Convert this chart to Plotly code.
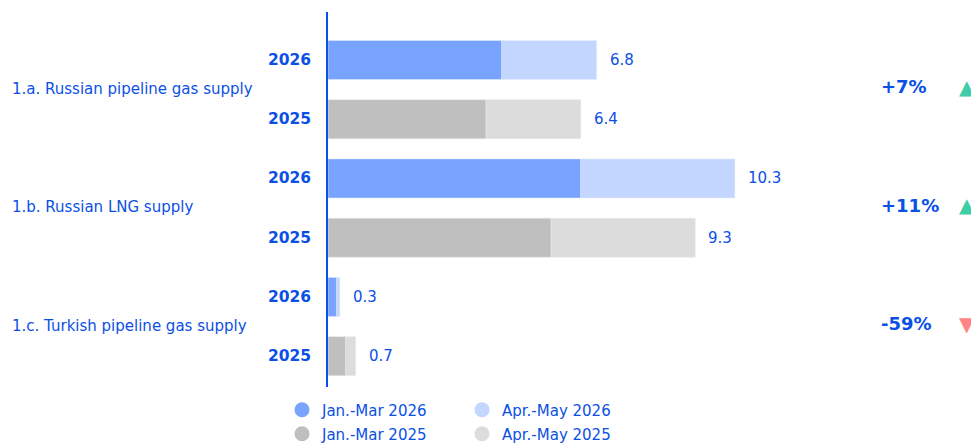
import plotly.graph_objects as go

groups = ["1.a. Russian pipeline gas supply", "1.b. Russian LNG supply", "1.c. Turkish pipeline gas supply"]
years = ["2026", "2025"]
jan_mar_2026 = [4.4, 6.4, 0.22]
apr_may_2026 = [2.4, 3.9, 0.08]
jan_mar_2025 = [4.0, 5.65, 0.45]
apr_may_2025 = [2.4, 3.65, 0.25]
change_pct = [7, 11, -59]

BLUE_TXT = "#0B50E6"
C_JM26, C_AM26, C_JM25, C_AM25 = "#78A4FF", "#C3D6FF", "#BFBFBF", "#DCDCDC"
FONT = "DejaVu Sans"

# row positions: group i -> 2026 at 2i, 2025 at 2i+1
y26 = [2 * i for i in range(len(groups))]
y25 = [2 * i + 1 for i in range(len(groups))]

fig = go.Figure()
bw = 0.66
fig.add_trace(go.Bar(y=y26, x=jan_mar_2026, orientation="h", marker_color=C_JM26, width=bw, showlegend=False))
fig.add_trace(go.Bar(y=y26, x=apr_may_2026, base=jan_mar_2026, orientation="h", marker_color=C_AM26, width=bw, showlegend=False))
fig.add_trace(go.Bar(y=y25, x=jan_mar_2025, orientation="h", marker_color=C_JM25, width=bw, showlegend=False))
fig.add_trace(go.Bar(y=y25, x=apr_may_2025, base=jan_mar_2025, orientation="h", marker_color=C_AM25, width=bw, showlegend=False))

# legend entries (circles)
for name, col, lg in [("Jan.-Mar 2026", C_JM26, "legend"), ("Apr.-May 2026", C_AM26, "legend"),
                      ("Jan.-Mar 2025", C_JM25, "legend2"), ("Apr.-May 2025", C_AM25, "legend2")]:
    fig.add_trace(go.Scatter(x=[None], y=[None], mode="markers", name=name,
                             marker=dict(color=col, size=15, symbol="circle"), legend=lg))

ann = []
for i, g in enumerate(groups):
    t26 = jan_mar_2026[i] + apr_may_2026[i]
    t25 = jan_mar_2025[i] + apr_may_2025[i]
    for yy, tot, yr in [(y26[i], t26, years[0]), (y25[i], t25, years[1])]:
        ann.append(dict(x=tot, y=yy, xref="x", yref="y", text=f"{tot:.1f}", showarrow=False,
                        xanchor="left", xshift=11, font=dict(size=15, color=BLUE_TXT, family=FONT)))
        ann.append(dict(x=0, y=yy, xref="x", yref="y", text=f"<b>{yr}</b>", showarrow=False,
                        xanchor="right", xshift=-15, font=dict(size=15.5, color=BLUE_TXT, family=FONT)))
    ymid = (y26[i] + y25[i]) / 2
    ann.append(dict(x=0, y=ymid, xref="paper", yref="y", text=g, showarrow=False,
                    xanchor="left", xshift=-318, yshift=1, font=dict(size=15, color=BLUE_TXT, family=FONT)))
    pct = change_pct[i]
    ann.append(dict(x=1, y=ymid, xref="paper", yref="y", text=f"<b>{'+' if pct > 0 else ''}{pct}%</b>",
                    showarrow=False, xanchor="left", xshift=-92, yshift=3,
                    font=dict(size=18, color=BLUE_TXT, family=FONT)))
    ann.append(dict(x=1, y=ymid, xref="paper", yref="y", text="▲" if pct > 0 else "▼",
                    showarrow=False, xanchor="left", xshift=-14, yshift=3,
                    font=dict(size=20, color="#3ECDA9" if pct > 0 else "#FF8585", family=FONT)))

leg_common = dict(orientation="h", x=282 / 971, xref="container", xanchor="left", yref="container",
                  yanchor="middle", entrywidth=135, entrywidthmode="pixels",
                  font=dict(size=15, color=BLUE_TXT, family=FONT),
                  bgcolor="rgba(0,0,0,0)", itemclick=False, itemdoubleclick=False)

fig.update_layout(
    width=971, height=443,
    margin=dict(l=328, r=0, t=12, b=56, autoexpand=False),
    plot_bgcolor="white", paper_bgcolor="white",
    barmode="overlay",
    font=dict(family=FONT, size=15, color=BLUE_TXT),
    xaxis=dict(range=[0, 643 / 39.5], showgrid=False, zeroline=False, showticklabels=False, fixedrange=True),
    yaxis=dict(range=[5.52, -0.81], showgrid=False, zeroline=False, showticklabels=False,
               showline=True, linecolor="#0B50E6", linewidth=2, fixedrange=True),
    legend=dict(leg_common, y=(443 - 410) / 443),
    legend2=dict(leg_common, y=(443 - 434) / 443),
    annotations=ann,
)

fig.write_html("out.html")
